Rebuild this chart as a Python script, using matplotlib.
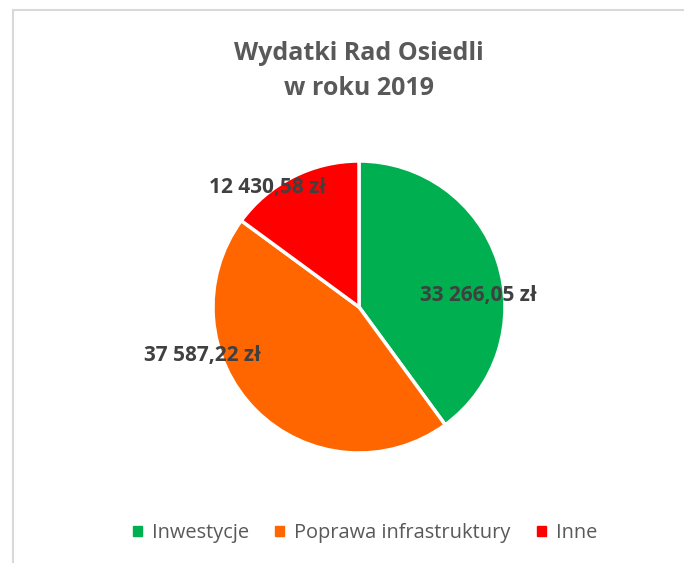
import numpy as np
import matplotlib
matplotlib.use('Agg')
import matplotlib.pyplot as plt
from matplotlib.patches import Rectangle

# 데이터
CATEGORIES = ['Inwestycje', 'Poprawa infrastruktury', 'Inne']
VALUES = [33266.05, 37587.22, 12430.58]
VALUE_LABELS = ['33 266,05 zł', '37 587,22 zł', '12 430,58 zł']
COLORS = ['#00B050', '#FF6600', '#FF0000']
TITLE = 'Wydatki Rad Osiedli\nw roku 2019'

# 라벨 위치 (각도 deg, 반지름 비율) — Excel best fit 흉내
LABEL_POS = [(5.3, 0.82), (197.1, 1.12), (127.2, 1.03)]

plt.rcParams['font.family'] = ['Open Sans', 'DejaVu Sans']

fig = plt.figure(figsize=(6.84, 5.63), dpi=100)
fig.patches.append(Rectangle((13 / 684, -0.1), 1.2, 1.1 - 10 / 563,
                             transform=fig.transFigure, fill=False,
                             edgecolor='#D9D9D9', linewidth=1.5))

ax = fig.add_axes([(359 - 146) / 684, 1 - (307 + 146) / 563, 292 / 684, 292 / 563])
wedges, _ = ax.pie(VALUES, colors=COLORS, startangle=90, counterclock=False,
                   wedgeprops={'edgecolor': 'white', 'linewidth': 2.5})
ax.set_xlim(-1, 1)
ax.set_ylim(-1, 1)
ax.set_aspect('equal')

for (ang, r), txt in zip(LABEL_POS, VALUE_LABELS):
    a = np.deg2rad(ang)
    ax.text(r * np.cos(a), r * np.sin(a), txt, ha='center', va='center',
            fontsize=15, fontweight='bold', color='#404040', clip_on=False)

fig.text(359 / 684, 1 - 71 / 563, TITLE, ha='center', va='center',
         fontsize=18, fontweight='bold', color='#595959', linespacing=1.5)

handles = [Rectangle((0, 0), 1, 1, color=c) for c in COLORS]
fig.legend(handles, CATEGORIES, loc='center', bbox_to_anchor=(365 / 684, 1 - 533 / 563),
           ncol=3, frameon=False, fontsize=14.4, handlelength=0.45, handleheight=0.45,
           handletextpad=0.5, columnspacing=1.3, labelcolor='#595959')

fig.savefig('out.png', dpi=100)
